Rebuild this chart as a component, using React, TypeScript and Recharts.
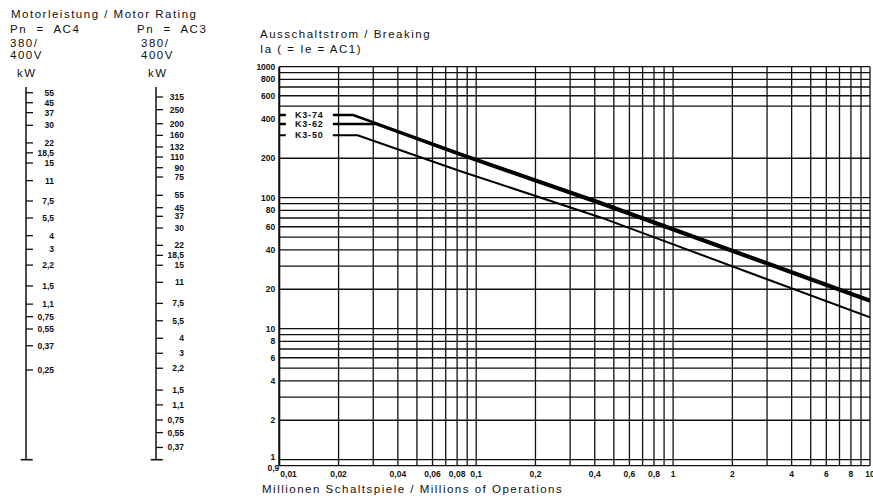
import React from "react";
import { LineChart, Line, XAxis, YAxis, ReferenceLine, ReferenceDot } from "recharts";

// main chart: x = millions of operations, y = breaking current Ia
const xTicks = [0.01, 0.02, 0.04, 0.06, 0.08, 0.1, 0.2, 0.4, 0.6, 0.8, 1, 2, 4, 6, 8, 10];
const yTicks = [0.9, 1, 2, 4, 6, 8, 10, 20, 40, 60, 80, 100, 200, 400, 600, 800, 1000];

const xGrid = [
  0.01, 0.02, 0.03, 0.04, 0.05, 0.06, 0.07, 0.08, 0.09,
  0.1, 0.2, 0.3, 0.4, 0.5, 0.6, 0.7, 0.8, 0.9,
  1, 2, 3, 4, 5, 6, 7, 8, 9, 10,
];
const yGrid = [
  0.9, 1, 2, 3, 4, 5, 6, 7, 8, 9,
  10, 20, 30, 40, 50, 60, 70, 80, 90,
  100, 200, 500, 600, 700, 800, 900, 1000,
];

// null point = gap where the series name sits on the line
const k374 = [
  { x: 0.01, y: 428 }, { x: 0.0108, y: 428 }, { x: 0.0125, y: null },
  { x: 0.0187, y: 428 }, { x: 0.0237, y: 428 }, { x: 0.0826, y: 218 },
  { x: 0.425, y: 93 }, { x: 10, y: 16.6 },
];
const k362 = [
  { x: 0.01, y: 365 }, { x: 0.0108, y: 365 }, { x: 0.0125, y: null },
  { x: 0.0187, y: 365 }, { x: 0.031, y: 365 }, { x: 0.0826, y: 212 },
  { x: 0.425, y: 90 }, { x: 10, y: 16.1 },
];
const k350 = [
  { x: 0.01, y: 300 }, { x: 0.0108, y: 300 }, { x: 0.0125, y: null },
  { x: 0.0187, y: 300 }, { x: 0.025, y: 300 }, { x: 0.0826, y: 160 },
  { x: 0.425, y: 71 }, { x: 10, y: 12.2 },
];
const seriesNames = ["K3-74", "K3-62", "K3-50"];
const seriesLevels = [428, 365, 300];
const nameX = 0.0142;

// motor rating scales: kW label and the current it sits at on the Ia axis
const ac4Kw = ["55", "45", "37", "30", "22", "18,5", "15", "11", "7,5", "5,5", "4", "3", "2,2", "1,5", "1,1", "0,75", "0,55", "0,37", "0,25"];
const ac4Amps = [633, 531, 446, 357, 262, 220, 184, 135, 94.4, 70, 51.3, 40.4, 30.6, 21.2, 15.4, 12.35, 9.95, 7.41, 4.84];
const ac3Kw = ["315", "250", "200", "160", "132", "110", "90", "75", "55", "45", "37", "30", "22", "18,5", "15", "11", "7,5", "5,5", "4", "3", "2,2", "1,5", "1,1", "0,75", "0,55", "0,37"];
const ac3Amps = [587, 470, 367, 299, 244, 204.5, 169.4, 143.9, 104.3, 83.9, 72.1, 58.7, 43.3, 36.3, 30.5, 22.6, 15.6, 11.5, 8.45, 6.49, 4.99, 3.4, 2.62, 2.01, 1.61, 1.24];
const scaleDomain = [1, 700];

const FONT = "'Liberation Sans', Arial, sans-serif";
const INK = "#111";

const fmt = (v: number) => String(v).replace(".", ",");

function XTick(p: any) {
  const v = p.payload.value;
  const first = v === xTicks[0];
  return (
    <text x={first ? p.x + 1 : p.x} y={p.y} dy="0.71em" textAnchor={first ? "start" : "middle"}
      fontSize={8.5} fontWeight={700} fontFamily={FONT} fill={INK}>
      {fmt(v)}
    </text>
  );
}

function YTick(p: any) {
  const v = p.payload.value;
  let dx = 0;
  let dy = 0;
  if (v === 1) dy = -3;
  if (v === 0.9) { dx = 4; dy = 2; }
  return (
    <text x={p.x + dx} y={p.y + dy} dy="0.355em" textAnchor="end"
      fontSize={8.5} fontWeight={700} fontFamily={FONT} fill={INK}>
      {fmt(v)}
    </text>
  );
}

function KwScale({ left, amps, labels }: { left: number; amps: number[]; labels: string[] }) {
  const dummy = [{ x: 0 }, { x: 1 }];
  return (
    <div style={{ position: "absolute", left, top: 0 }}>
      <LineChart width={80} height={498} data={dummy} margin={{ top: 87, right: 0, bottom: 38.3, left: 20 }}>
        <XAxis type="number" dataKey="x" domain={[0, 1]} hide />
        <YAxis
          orientation="right"
          type="number"
          scale="log"
          domain={scaleDomain}
          allowDataOverflow
          ticks={amps}
          interval={0}
          width={54}
          tickSize={7}
          tickMargin={2}
          axisLine={{ stroke: INK, strokeWidth: 1.5 }}
          tickLine={{ stroke: INK, strokeWidth: 1.3 }}
          tick={(p: any) => (
            <text x={p.x + 19} y={p.y} dy="0.355em" textAnchor="end"
              fontSize={8.5} fontWeight={600} fontFamily={FONT} fill={INK}>
              {labels[amps.indexOf(p.payload.value)]}
            </text>
          )}
        />
        <ReferenceLine segment={[{ x: 0.12, y: 1 }, { x: 2.12, y: 1 }]} stroke={INK} strokeWidth={1.6} ifOverflow="visible" />
      </LineChart>
    </div>
  );
}

const titles = [
  { t: "Motorleistung / Motor Rating", x: 11, y: 18.3 },
  { t: "Pn  =  AC4", x: 10, y: 33.3 },
  { t: "Pn  =  AC3", x: 137, y: 33.3 },
  { t: "380/", x: 10, y: 46.7 },
  { t: "380/", x: 141, y: 46.7 },
  { t: "400V", x: 10, y: 59 },
  { t: "400V", x: 141, y: 59 },
  { t: "kW", x: 17, y: 76.7 },
  { t: "kW", x: 148, y: 76.7 },
  { t: "Ausschaltstrom / Breaking", x: 260, y: 38.3 },
  { t: "Ia ( = Ie = AC1)", x: 260, y: 53.3 },
  { t: "Millionen Schaltspiele / Millions of Operations", x: 262, y: 493.3 },
];

export default function App() {
  return (
    <div style={{ position: "absolute", left: 0, top: 0, width: 873, height: 498, background: "#fff" }}>
      <div style={{ position: "absolute", left: 0, top: 0 }}>
        <LineChart width={873} height={498} margin={{ top: 66.7, right: 3, bottom: 12.3, left: 219.3 }}>
          <XAxis
            type="number"
            dataKey="x"
            scale="log"
            domain={[0.01, 10]}
            allowDataOverflow
            ticks={xTicks}
            interval={0}
            height={20}
            axisLine={false}
            tickLine={false}
            tickSize={3}
            tickMargin={2.6}
            tick={XTick}
          />
          <YAxis
            type="number"
            scale="log"
            domain={[0.9, 1000]}
            allowDataOverflow
            ticks={yTicks}
            interval={0}
            width={60}
            axisLine={{ stroke: INK, strokeWidth: 2 }}
            tickLine={false}
            tickSize={2}
            tickMargin={2}
            tick={YTick}
          />
          {xGrid.map((v) => (
            <ReferenceLine key={"gx" + v} x={v} stroke={INK} strokeWidth={1.3} />
          ))}
          {yGrid.map((v) => (
            <ReferenceLine key={"gy" + v} y={v} stroke={INK} strokeWidth={1.3} />
          ))}
          <Line data={k374} dataKey="y" name="K3-74" type="linear" stroke="#000" strokeWidth={2.5} dot={false} isAnimationActive={false} />
          <Line data={k362} dataKey="y" name="K3-62" type="linear" stroke="#000" strokeWidth={2.5} dot={false} isAnimationActive={false} />
          <Line data={k350} dataKey="y" name="K3-50" type="linear" stroke="#000" strokeWidth={2} dot={false} isAnimationActive={false} />
          {seriesNames.map((n, i) => (
            <ReferenceDot
              key={n}
              x={nameX}
              y={seriesLevels[i]}
              r={0}
              shape={(p: any) => (
                <text x={p.cx} y={p.cy} dy="0.355em" textAnchor="middle" fontSize={9} fontWeight={600}
                  letterSpacing={0.8} fontFamily={FONT} fill={INK}>
                  {n}
                </text>
              )}
            />
          ))}
        </LineChart>
      </div>
      <KwScale left={0} amps={ac4Amps} labels={ac4Kw} />
      <KwScale left={130} amps={ac3Amps} labels={ac3Kw} />
      <svg width={873} height={498} style={{ position: "absolute", left: 0, top: 0, pointerEvents: "none" }}>
        {titles.map((d, i) => (
          <text key={i} x={d.x} y={d.y} fontSize={11.5} letterSpacing={1.5} fontFamily={FONT} fill={INK}
            style={{ whiteSpace: "pre" }}>
            {d.t}
          </text>
        ))}
      </svg>
    </div>
  );
}
